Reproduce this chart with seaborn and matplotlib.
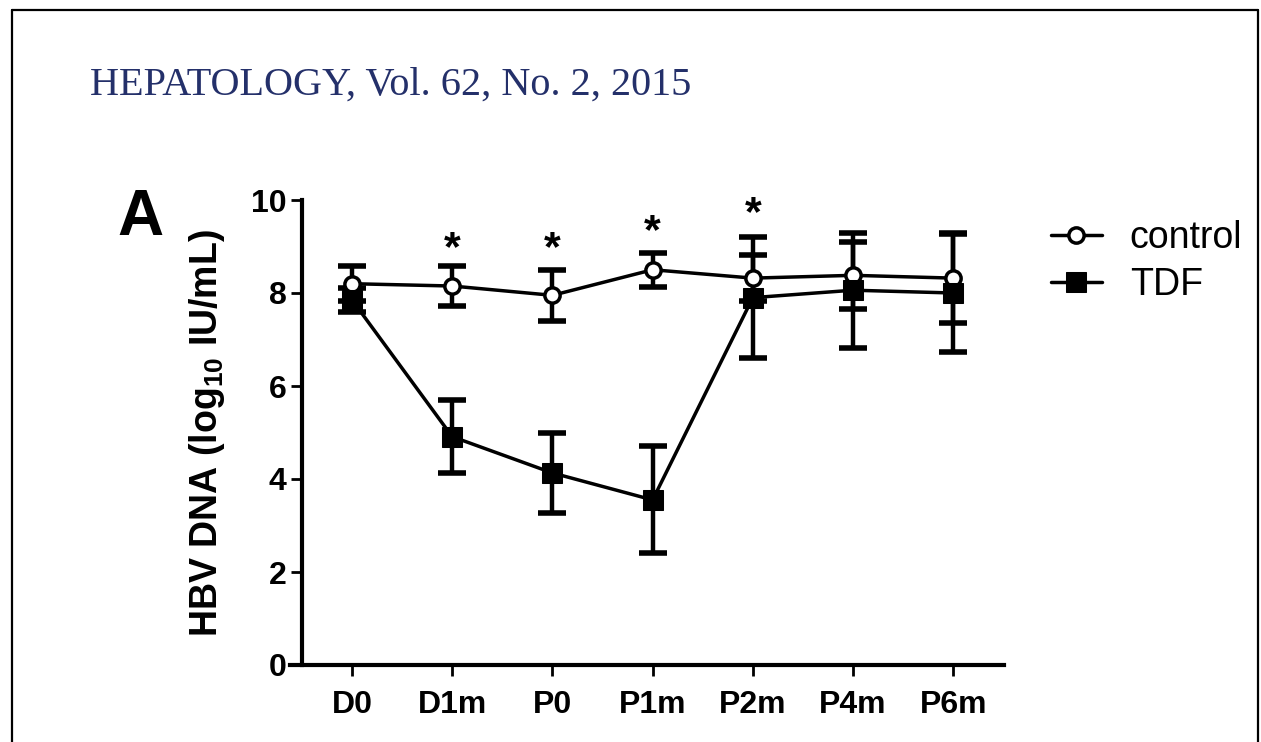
import matplotlib
matplotlib.use("Agg")
import matplotlib.pyplot as plt
from matplotlib.lines import Line2D
import seaborn as sns

timepoints = ['D0', 'D1m', 'P0', 'P1m', 'P2m', 'P4m', 'P6m']
control_mean = [8.2, 8.15, 7.95, 8.5, 8.32, 8.38, 8.32]
control_sd = [0.38, 0.42, 0.55, 0.37, 0.5, 0.72, 0.97]
tdf_mean = [7.85, 4.91, 4.13, 3.55, 7.9, 8.06, 8.0]
tdf_sd = [0.25, 0.79, 0.86, 1.15, 1.3, 1.24, 1.27]
star_points = ['D1m', 'P0', 'P1m', 'P2m']
star_heights = [8.95, 8.95, 9.3, 9.7]

sns.set_theme(style='ticks')
plt.rcParams['font.family'] = ['Liberation Sans', 'DejaVu Sans']
plt.rcParams['mathtext.fontset'] = 'custom'
plt.rcParams['mathtext.rm'] = 'Liberation Sans'
plt.rcParams['mathtext.bf'] = 'Liberation Sans:bold'
for key in ['text.color', 'axes.labelcolor', 'xtick.color', 'ytick.color', 'axes.edgecolor']:
    plt.rcParams[key] = 'black'

W, H = 1261, 742
fig = plt.figure(figsize=(W / 100, H / 100), dpi=100)
fig.patch.set_facecolor('white')
ax = fig.add_axes([290 / W, 1 - 665 / H, (1004 - 290) / W, (665 - 200) / H])
ax.set_facecolor('white')

# error bars first, markers drawn on top
ax.errorbar(timepoints, control_mean, yerr=control_sd, fmt='none', ecolor='black',
            elinewidth=3.2, capsize=10, capthick=4, zorder=2)
ax.errorbar(timepoints, tdf_mean, yerr=tdf_sd, fmt='none', ecolor='black',
            elinewidth=3.2, capsize=10, capthick=4, zorder=2)

sns.lineplot(x=timepoints, y=control_mean, sort=False, color='black', lw=2.5,
             marker='o', markersize=11, markerfacecolor='white',
             markeredgecolor='black', markeredgewidth=2.5, label='control', ax=ax, zorder=3)
sns.lineplot(x=timepoints, y=tdf_mean, sort=False, color='black', lw=2.5,
             marker='s', markersize=14, markerfacecolor='black',
             markeredgecolor='black', label='TDF', ax=ax, zorder=4)

for tp, h in zip(star_points, star_heights):
    ax.text(timepoints.index(tp), h, '*', ha='center', va='center',
            fontsize=31, fontweight='bold', color='black')

ax.set_ylim(0, 10)
ax.set_xlim(-0.619, 6.507)
ax.set_yticks([0, 2, 4, 6, 8, 10])
ax.set_xlabel('')
ax.set_ylabel('')
ax.spines['top'].set_visible(False)
ax.spines['right'].set_visible(False)
ax.spines['left'].set_position(('data', -0.5))
ax.spines['left'].set_linewidth(3)
ax.spines['bottom'].set_linewidth(3)
ax.tick_params(axis='y', length=8, width=2, labelsize=23, pad=3)
ax.tick_params(axis='x', length=8, width=2, labelsize=23, pad=10)
for lab in ax.get_xticklabels() + ax.get_yticklabels():
    lab.set_fontweight('bold')

handles, labels = ax.get_legend_handles_labels()
ax.get_legend().remove()
fig.legend(handles, labels, loc='upper left', bbox_to_anchor=(1051 / W, 1 - 220 / H),
           frameon=False, fontsize=27, handlelength=1.35, handletextpad=0.75,
           labelspacing=0.3, borderpad=0, borderaxespad=0)

fig.text(207 / W, 1 - 433 / H, r'HBV DNA (log$_{\mathbf{10}}$ IU/mL)', rotation=90,
         ha='center', va='center', fontsize=27, fontweight='bold')
fig.text(117 / W, 1 - 235 / H, 'A', fontsize=46, fontweight='bold', va='baseline')
fig.text(90 / W, 1 - 95 / H, 'HEPATOLOGY, Vol. 62, No. 2, 2015', fontsize=29,
         family='Liberation Serif', color='#24306a', va='baseline')

# page frame
frame_kw = dict(color='black', lw=1.6, transform=fig.transFigure)
fig.add_artist(Line2D([12 / W, 12 / W], [0, 1 - 10 / H], **frame_kw))
fig.add_artist(Line2D([12 / W, 1258 / W], [1 - 10 / H, 1 - 10 / H], **frame_kw))
fig.add_artist(Line2D([1258 / W, 1258 / W], [0, 1 - 10 / H], **frame_kw))

fig.savefig('out.png', dpi=100)
